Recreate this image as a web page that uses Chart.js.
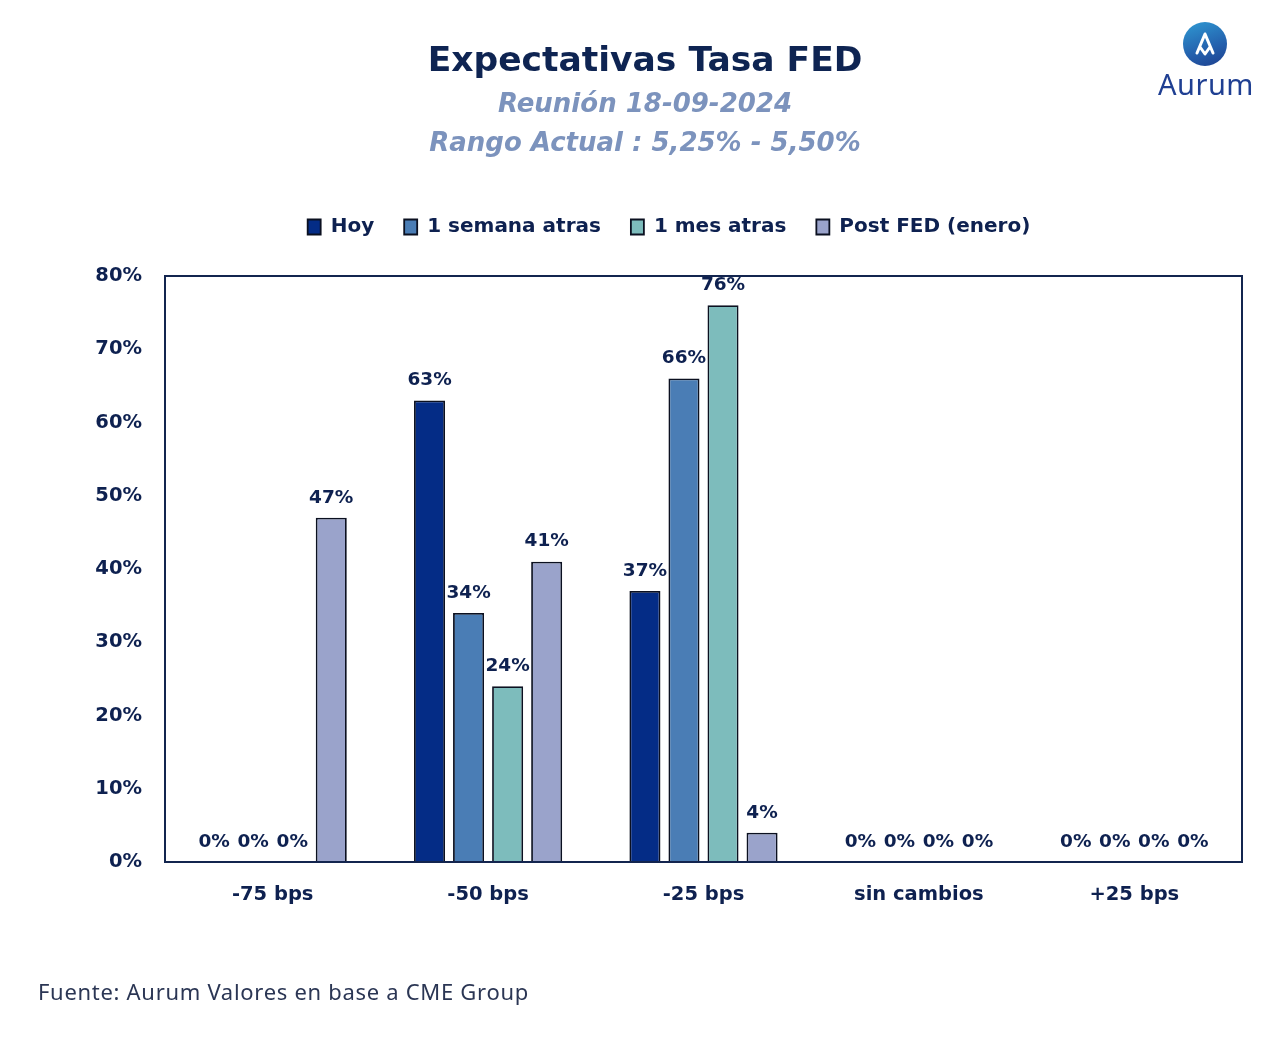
<!DOCTYPE html>
<html>
<head>
<meta charset="utf-8">
<script src="https://cdn.jsdelivr.net/npm/chart.js@4.4.1/dist/chart.umd.min.js"></script>
<style>
  html, body { margin: 0; padding: 0; background: #ffffff; }
  #wrap { position: relative; width: 1280px; height: 1047px; overflow: hidden; }
  #c { position: absolute; left: 0; top: 0; }
  .title { position: absolute; left: 0; width: 1290px; text-align: center; font-family: "DejaVu Sans", sans-serif; font-weight: bold; }
  #t1 { top: 39px; font-size: 34.5px; color: #0e2452; }
  #t2 { top: 88px; font-size: 26px; font-style: italic; color: #7c93bd; }
  #t3 { top: 127px; font-size: 26px; font-style: italic; color: #7c93bd; }
  #foot { position: absolute; left: 38px; top: 976px; font-family: "Noto Sans", sans-serif; font-size: 22px; color: #2b3654; letter-spacing: 0.7px; }
  #logo { position: absolute; left: 1150px; top: 18px; width: 112px; height: 80px; }
  #logoCircle { position: absolute; left: 33px; top: 4px; width: 44px; height: 44px; border-radius: 50%; background: linear-gradient(160deg, #2f9ad3 0%, #2460ad 60%, #1d3f8e 100%); }
  #logoText { position: absolute; left: 0; top: 46px; width: 112px; text-align: center; font-family: "Noto Sans", sans-serif; font-size: 29px; color: #1f3f92; letter-spacing: 0.5px; }
</style>
</head>
<body>
<div id="wrap">
  <canvas id="c" width="1280" height="1047"></canvas>
  <div class="title" id="t1">Expectativas Tasa FED</div>
  <div class="title" id="t2">Reunión 18-09-2024</div>
  <div class="title" id="t3">Rango Actual : 5,25% - 5,50%</div>
  <div id="logo">
    <div id="logoCircle">
      <svg width="44" height="44" viewBox="0 0 44 44">
        <path d="M14 31 L22 12 L30 31 M17 25 L22 32 L27 25" fill="none" stroke="#ffffff" stroke-width="3" stroke-linecap="round" stroke-linejoin="round"/>
      </svg>
    </div>
    <div id="logoText">Aurum</div>
  </div>
  <div id="foot">Fuente: Aurum Valores en base a CME Group</div>
</div>
<script>
const categories = ["-75 bps", "-50 bps", "-25 bps", "sin cambios", "+25 bps"];
const seriesNames = ["Hoy", "1 semana atras", "1 mes atras", "Post FED (enero)"];
const hoy = [0, 63, 37, 0, 0];
const semanaAtras = [0, 34, 66, 0, 0];
const mesAtras = [0, 24, 76, 0, 0];
const postFed = [47, 41, 4, 0, 0];
const yTicks = [0, 10, 20, 30, 40, 50, 60, 70, 80];

const colors = ["#042c86", "#4a7db5", "#7dbcbc", "#9aa3cb"];
const navy = "#0e2150";
const FONT = "'DejaVu Sans', sans-serif";

const valueLabels = {
  id: "valueLabels",
  afterDatasetsDraw(chart) {
    const ctx = chart.ctx;
    ctx.save();
    ctx.font = "bold 18.5px " + FONT;
    ctx.fillStyle = navy;
    ctx.textAlign = "center";
    ctx.textBaseline = "middle";
    chart.data.datasets.forEach((ds, i) => {
      const meta = chart.getDatasetMeta(i);
      meta.data.forEach((bar, j) => {
        ctx.fillText(Math.round(ds.data[j]) + "%", bar.x, bar.y - 20);
      });
    });
    ctx.restore();
  }
};

const plotBorder = {
  id: "plotBorder",
  afterDraw(chart) {
    const a = chart.chartArea;
    const ctx = chart.ctx;
    ctx.save();
    ctx.strokeStyle = "#13254f";
    ctx.lineWidth = 2;
    ctx.strokeRect(a.left, a.top, a.right - a.left, a.bottom - a.top);
    ctx.restore();
  }
};

// extra space under the legend and a small horizontal shift of the legend row
const legendTweak = {
  id: "legendTweak",
  beforeLayout(chart) {
    const lg = chart.legend;
    if (lg && !lg._patched) {
      const orig = lg.fit;
      lg.fit = function () { orig.call(this); this.height += 29; };
      lg._patched = true;
    }
  },
  afterLayout(chart) {
    const lg = chart.legend;
    if (lg) { lg.left += 48; lg.right += 48; }
  }
};

const seriesData = [hoy, semanaAtras, mesAtras, postFed];

new Chart(document.getElementById("c"), {
  type: "bar",
  data: {
    labels: categories,
    datasets: seriesData.map((d, i) => ({
      label: seriesNames[i],
      data: d,
      backgroundColor: colors[i],
      borderColor: "#0b1020",
      borderWidth: 1.8,
      borderSkipped: "bottom",
      categoryPercentage: 0.725,
      barPercentage: 0.795
    }))
  },
  options: {
    responsive: false,
    animation: false,
    devicePixelRatio: 1,
    layout: { padding: { top: 187, left: 0, right: 38, bottom: 125 } },
    plugins: {
      legend: {
        position: "top",
        labels: {
          font: { family: FONT, size: 20, weight: "bold" },
          color: navy,
          boxWidth: 13,
          boxHeight: 15,
          padding: 30
        }
      },
      tooltip: { enabled: false },
      title: { display: false }
    },
    scales: {
      x: {
        grid: { display: false, drawTicks: false },
        border: { display: false },
        ticks: {
          font: { family: FONT, size: 19.5, weight: "bold" },
          color: navy,
          padding: 21
        },
        afterFit(s) { s.height = 60; }
      },
      y: {
        min: 0,
        max: 80,
        grid: { display: false, drawTicks: false },
        border: { display: false },
        afterBuildTicks(s) { s.ticks = yTicks.map(v => ({ value: v })); },
        ticks: {
          font: { family: FONT, size: 19.5, weight: "bold" },
          color: navy,
          padding: 23,
          callback: v => v + "%"
        },
        afterFit(s) { s.width = 165; }
      }
    }
  },
  plugins: [legendTweak, valueLabels, plotBorder]
});
</script>
</body>
</html>
